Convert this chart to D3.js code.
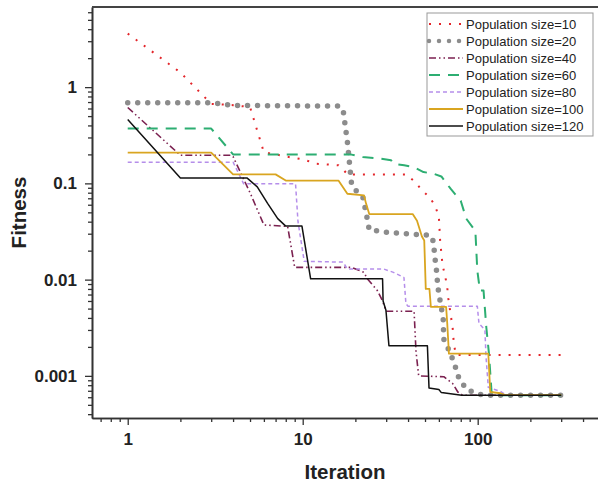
<!DOCTYPE html>
<html>
<head>
<meta charset="utf-8">
<script src="https://cdn.jsdelivr.net/npm/d3@7"></script>
<style>
  body { margin: 0; background: #fff; }
  svg { display: block; font-family: "Liberation Sans", Arial, sans-serif; }
</style>
</head>
<body>
<div id="my_dataviz"></div>
<script>
// data: [iteration, fitness]
var pop10 = [[1,3.6],[2,1.42],[3,0.67],[4,0.65],[5,0.62],[6,0.21],[7,0.2],[8,0.19],[10,0.178],[12,0.16],[16,0.154],[17,0.14],[18,0.124],
    [39,0.124],[44,0.103],[48,0.085],[53,0.072],[57,0.059],[60,0.045],[61,0.0255],[63,0.014],[65,0.0112],[67,0.0083],[68,0.0063],
    [70,0.0044],[72,0.0031],[73,0.0022],[75,0.00165],[305,0.00165]];
var pop20 = [[1,0.69],[3,0.69],[4,0.645],[16,0.635],[17,0.59],[18,0.27],[19,0.1],[20,0.085],[22,0.074],[23,0.05],[24,0.033],
    [30,0.031],[51,0.029],[55,0.028],[56,0.023],[57.5,0.0145],[58.5,0.0115],[59,0.0087],[61,0.006],[63.5,0.004],[64,0.0024],
    [70,0.0017],[75,0.0012],[78,0.00095],[86,0.00073],[95,0.00067],[108,0.00063],[300,0.00063]];
var pop40 = [[1,0.614],[2,0.196],[3.9,0.196],[4,0.19],[5,0.08],[6,0.037],[8.2,0.0357],[9,0.0134],[19,0.0134],[22.4,0.0119],
    [23.4,0.0102],[26.7,0.0077],[28.6,0.006],[30,0.0047],[43.3,0.0047],[44.4,0.0018],[46,0.001],[64,0.00098],[72,0.00083],
    [77,0.00068],[82,0.00063],[300,0.00063]];
var pop60 = [[1,0.371],[3,0.371],[4,0.2],[19,0.199],[22,0.188],[28,0.181],[32,0.174],[33,0.16],[38,0.154],[43,0.148],[49,0.131],
    [56,0.126],[62,0.118],[70,0.088],[80,0.066],[86,0.043],[97,0.032],[99.5,0.0124],[103,0.0077],[108,0.0077],[112,0.0032],
    [116,0.0017],[120,0.00068],[130,0.00063],[300,0.00063]];
var pop80 = [[1,0.166],[4,0.166],[4.6,0.099],[9.1,0.099],[9.4,0.04],[10.2,0.0155],[17,0.0152],[18,0.0129],[29,0.0129],[33,0.0119],
    [37.9,0.0105],[38.9,0.0056],[40,0.0053],[99.5,0.0053],[101.7,0.0035],[110,0.003],[111.5,0.0016],[115,0.00076],[135,0.00069],
    [145,0.00063],[300,0.00063]];
var pop100 = [[1,0.209],[3,0.209],[4,0.124],[7,0.124],[8,0.107],[16,0.107],[18,0.078],[22.4,0.075],[23,0.062],[24,0.048],
    [42.5,0.048],[45,0.041],[48,0.028],[49.5,0.0255],[50.5,0.008],[53,0.008],[54,0.0052],[66,0.0052],[67,0.0035],[68.5,0.0017],
    [115,0.0017],[118,0.00068],[135,0.00066],[144,0.00063],[300,0.00063]];
var pop120 = [[1,0.46],[2,0.114],[4.8,0.114],[5.5,0.092],[6.3,0.062],[7.2,0.043],[8,0.036],[9.9,0.036],[11.1,0.0102],[28.6,0.0102],
    [28.8,0.006],[29.9,0.0048],[31.1,0.00206],[51.6,0.00206],[52.7,0.00075],[60,0.00072],[62,0.00067],[81,0.00063],[300,0.00063]];

var seriesNames = ["Population size=10","Population size=20","Population size=40","Population size=60",
    "Population size=80","Population size=100","Population size=120"];
var xTicks = [1, 10, 100];
var yTicks = [1, 0.1, 0.01, 0.001];
var yTickLabels = ["1", "0.1", "0.01", "0.001"];

// line styles per series
var styles = [
    {color: "#e3262b", width: 2,   dash: "2 8",  cap: "butt"},
    {color: "#8c8c8c", width: 5.5, dash: "0 10", cap: "round"},
    {color: "#7b2150", width: 1.6, dash: "7 3 1.5 3 1.5 3", cap: "butt"},
    {color: "#2dae72", width: 2,   dash: "11 8", cap: "butt"},
    {color: "#b58eea", width: 1.5, dash: "4 3",  cap: "butt"},
    {color: "#d9a520", width: 1.8, dash: null,   cap: "butt"},
    {color: "#111111", width: 1.5, dash: null,   cap: "butt"}
];
var allSeries = [pop10, pop20, pop40, pop60, pop80, pop100, pop120];

var margin = {top: 7, left: 92},
    W = 598, H = 486,
    width = 508,
    height = 411;

var svg = d3.select("#my_dataviz")
    .append("svg")
    .attr("width", W)
    .attr("height", H);

var x = d3.scaleLog().domain([0.625, 500]).range([margin.left, margin.left + width]);
var y = d3.scaleLog().domain([6.8, 0.000365]).range([margin.top, margin.top + height]);

svg.append("clipPath").attr("id", "plotclip")
    .append("rect")
    .attr("x", margin.left).attr("y", margin.top)
    .attr("width", width).attr("height", height);

// curves
var line = d3.line()
    .x(function(d) { return x(d[0]); })
    .y(function(d) { return y(d[1]); });

svg.append("g").attr("clip-path", "url(#plotclip)")
    .selectAll("path")
    .data(allSeries)
    .enter()
    .append("path")
    .attr("d", line)
    .attr("fill", "none")
    .attr("stroke", function(d, i) { return styles[i].color; })
    .attr("stroke-width", function(d, i) { return styles[i].width; })
    .attr("stroke-dasharray", function(d, i) { return styles[i].dash; })
    .attr("stroke-linecap", function(d, i) { return styles[i].cap; })
    .attr("stroke-linejoin", "round");

// minor ticks
var xMinor = x.ticks().filter(function(v) { return xTicks.indexOf(v) < 0; });
var yMinor = y.ticks().filter(function(v) { return yTicks.indexOf(v) < 0; });

svg.append("g")
    .attr("class", "axis")
    .attr("transform", "translate(0," + (margin.top + height) + ")")
    .call(d3.axisBottom(x).tickValues(xMinor).tickSize(4).tickSizeOuter(0).tickFormat(""));

svg.append("g")
    .attr("class", "axis")
    .attr("transform", "translate(" + margin.left + ",0)")
    .call(d3.axisLeft(y).tickValues(yMinor).tickSize(4).tickSizeOuter(0).tickFormat(""));

// major ticks
svg.append("g")
    .attr("class", "axis major")
    .attr("transform", "translate(0," + (margin.top + height) + ")")
    .call(d3.axisBottom(x).tickValues(xTicks).tickSize(7).tickSizeOuter(0).tickPadding(8)
        .tickFormat(function(d) { return String(d); }));

svg.append("g")
    .attr("class", "axis major")
    .attr("transform", "translate(" + margin.left + ",0)")
    .call(d3.axisLeft(y).tickValues(yTicks).tickSize(7).tickSizeOuter(0).tickPadding(8)
        .tickFormat(function(d, i) { return yTickLabels[i]; }));

svg.selectAll(".axis path").attr("stroke", "#333").attr("stroke-width", 1.6);
svg.selectAll(".axis line").attr("stroke", "#333").attr("stroke-width", 1.3);
svg.selectAll(".major text")
    .attr("font-family", "Liberation Sans, Arial, sans-serif")
    .attr("font-size", "17px")
    .attr("font-weight", "bold")
    .attr("fill", "#222");

// top frame line
svg.append("line")
    .attr("x1", margin.left).attr("x2", W)
    .attr("y1", margin.top).attr("y2", margin.top)
    .attr("stroke", "#444").attr("stroke-width", 2);

// axis titles
svg.append("text")
    .attr("x", margin.left + (W - margin.left) / 2)
    .attr("y", 479)
    .attr("text-anchor", "middle")
    .attr("font-size", "20.5px")
    .attr("font-weight", "bold")
    .attr("fill", "#222")
    .text("Iteration");

svg.append("text")
    .attr("transform", "rotate(-90)")
    .attr("x", -(margin.top + height / 2))
    .attr("y", 26)
    .attr("text-anchor", "middle")
    .attr("font-size", "20.5px")
    .attr("font-weight", "bold")
    .attr("fill", "#222")
    .text("Fitness");

// legend
var legend = svg.append("g");
legend.append("rect")
    .attr("x", 427).attr("y", 13)
    .attr("width", 166).attr("height", 123)
    .attr("fill", "#fff")
    .attr("stroke", "#999")
    .attr("stroke-width", 1);

var rows = legend.selectAll("g.row")
    .data(seriesNames)
    .enter()
    .append("g")
    .attr("class", "row")
    .attr("transform", function(d, i) { return "translate(0," + (24 + i * 17) + ")"; });

rows.append("line")
    .attr("x1", 429).attr("x2", 463)
    .attr("y1", 0).attr("y2", 0)
    .attr("stroke", function(d, i) { return styles[i].color; })
    .attr("stroke-width", function(d, i) { return Math.min(styles[i].width, 4.5); })
    .attr("stroke-dasharray", function(d, i) { return styles[i].dash; })
    .attr("stroke-linecap", function(d, i) { return styles[i].cap; });

rows.append("text")
    .attr("x", 466)
    .attr("y", 4.6)
    .attr("font-size", "13px")
    .attr("fill", "#222")
    .text(function(d) { return d; });
</script>
</body>
</html>
